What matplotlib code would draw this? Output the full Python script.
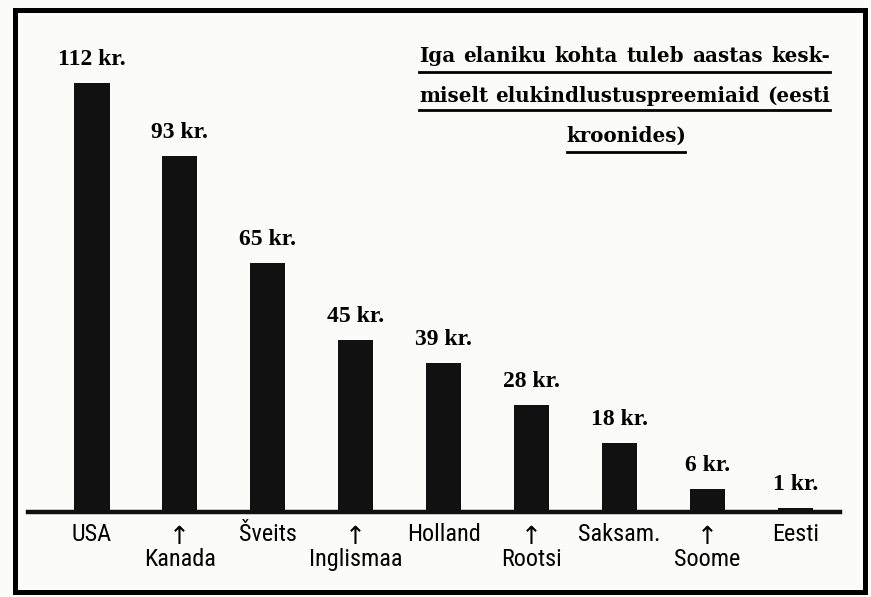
import matplotlib
matplotlib.use("Agg")
import matplotlib.pyplot as plt
from matplotlib.lines import Line2D
from matplotlib.patches import Rectangle

# data
countries = ['USA', 'Kanada', 'Šveits', 'Inglismaa', 'Holland',
             'Rootsi', 'Saksam.', 'Soome', 'Eesti']
premiums = [112, 93, 65, 45, 39, 28, 18, 6, 1]
title_lines = [
    "Iga elaniku kohta tuleb aastas kesk-",
    "miselt elukindlustuspreemiaid (eesti",
    "kroonides)",
]

W, H = 871, 597


def fx(x):
    return x / W


def fy(y):
    return 1 - y / H


fig = plt.figure(figsize=(W / 100, H / 100), dpi=100)
fig.patch.set_facecolor('#fbfbfa')

# frame round the whole chart
fig.add_artist(Rectangle((fx(15), fy(592)), 850 / W, (592 - 10) / H,
                         transform=fig.transFigure, fill=False,
                         edgecolor='black', linewidth=3.6))

# axes placed so that bar centres / baseline match the scan
ax = fig.add_axes([fx(28), fy(512), fx(840 - 28), (512 - 40) / H])
ax.set_facecolor('none')
x = list(range(len(countries)))
ax.bar(x, premiums, width=0.40, color='#111111', zorder=2)
ax.set_xlim(-0.728, 8.51)
ax.set_ylim(0, (512 - 40) / 3.83)
ax.axhline(0, color='#111111', linewidth=3.2, zorder=3, clip_on=False)
for s in ax.spines.values():
    s.set_visible(False)
ax.set_xticks([])
ax.set_yticks([])

serif_b = dict(family=['Liberation Serif', 'DejaVu Serif'], weight='bold')
narrow = dict(family=['Roboto Condensed', 'Roboto', 'DejaVu Sans'])

for i, v in enumerate(premiums):
    ax.annotate(f"{v} kr.", (i, v), xytext=(0, 13), textcoords='offset points',
                ha='center', va='baseline', fontsize=17, **serif_b)
    if i % 2 == 0:
        ax.annotate(countries[i], (i, 0), xytext=(0, -21), textcoords='offset points',
                    ha='center', va='baseline', fontsize=17.5, **narrow, annotation_clip=False)
    else:
        ax.annotate(countries[i], (i, 0), xytext=(0, -39), textcoords='offset points',
                    ha='center', va='baseline', fontsize=17.5, **narrow, annotation_clip=False)
        ax.annotate("↑", (i, 0), xytext=(0, -23), textcoords='offset points',
                    ha='center', va='baseline', fontsize=18,
                    family='DejaVu Sans', annotation_clip=False)

# title, justified between x=419 and x=830 like the print
title_font = dict(family=['DejaVu Serif'], weight='bold', fontsize=14.3)
baselines = [62, 102, 142]
left, right = 419, 830
fig.canvas.draw()
r = fig.canvas.get_renderer()
for k, line in enumerate(title_lines[:2]):
    words = line.split()
    texts = [fig.text(0, fy(baselines[k]), w, va='baseline', ha='left', **title_font)
             for w in words]
    widths = [t.get_window_extent(r).width for t in texts]
    gap = (right - left - sum(widths)) / (len(words) - 1)
    pos = left
    for t, wd in zip(texts, widths):
        t.set_x(fx(pos))
        pos += wd + gap
fig.text(fx(626), fy(baselines[2]), title_lines[2], va='baseline', ha='center', **title_font)

# underlines
for y0, x0, x1 in [(72, 419, 830), (110, 419, 830), (152, 567, 685)]:
    fig.add_artist(Line2D([fx(x0), fx(x1)], [fy(y0), fy(y0)], transform=fig.transFigure,
                          color='black', linewidth=2))

fig.savefig('out.png', dpi=100, facecolor=fig.get_facecolor())
